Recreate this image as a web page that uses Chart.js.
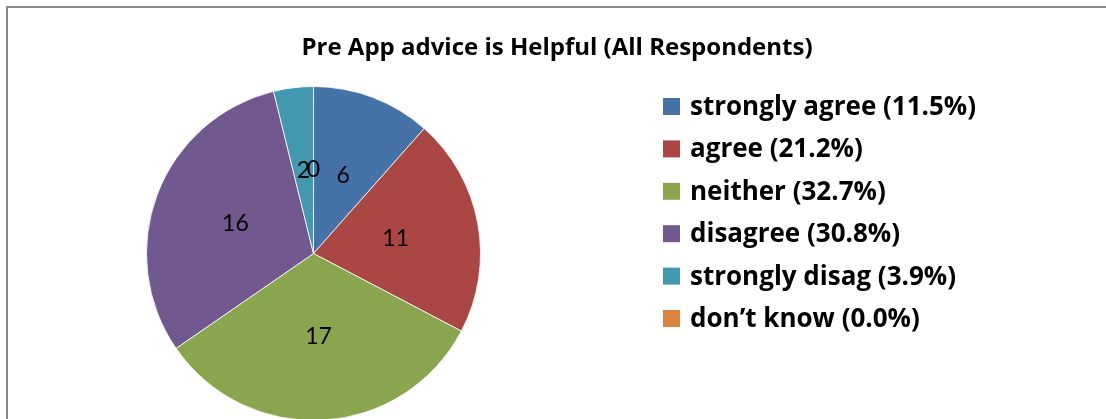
<!DOCTYPE html>
<html>
<head>
<meta charset="utf-8">
<script src="https://cdn.jsdelivr.net/npm/chart.js@4/dist/chart.umd.min.js"></script>
<style>
  html, body { margin: 0; padding: 0; background: #fff; overflow: hidden; }
  #wrap { position: relative; width: 1106px; height: 419px; overflow: hidden; background: #fff; }
  #wrap canvas { position: absolute; left: 0; top: 0; }
</style>
</head>
<body>
<div id="wrap"><canvas id="c" width="1106" height="430" style="width:1106px;height:430px"></canvas></div>
<script>
// Survey answers: "Pre App advice is Helpful"
const chartTitle = 'Pre App advice is Helpful (All Respondents)';
const categories = ['strongly agree', 'agree', 'neither', 'disagree', 'strongly disag', 'don\u2019t know'];
const counts = [6, 11, 17, 16, 2, 0];
const legendLabels = [
  'strongly agree (11.5%)',
  'agree (21.2%)',
  'neither (32.7%)',
  'disagree (30.8%)',
  'strongly disag (3.9%)',
  'don\u2019t know (0.0%)'
];
const sliceColors = ['#4572A7', '#AA4643', '#89A54E', '#71588F', '#4198AF', '#DB843D'];

const LABEL_FONT = 'Lato, "Open Sans", "DejaVu Sans", sans-serif';
const BOLD_FONT = '"Open Sans", "Noto Sans", "DejaVu Sans", sans-serif';

// Chart frame, title, value labels and legend
const decorations = {
  id: 'decorations',
  beforeDraw(chart) {
    const ctx = chart.ctx;
    ctx.save();
    ctx.fillStyle = '#ffffff';
    ctx.fillRect(0, 0, chart.width, chart.height);
    ctx.strokeStyle = '#8a8a8a';
    ctx.lineWidth = 2;
    ctx.beginPath();
    ctx.moveTo(7, chart.height + 5);
    ctx.lineTo(7, 7);
    ctx.lineTo(chart.width + 5, 7);
    ctx.stroke();
    ctx.restore();
  },
  afterDatasetsDraw(chart) {
    const ctx = chart.ctx;
    const meta = chart.getDatasetMeta(0);
    ctx.save();
    ctx.font = '23px ' + LABEL_FONT;
    ctx.fillStyle = '#000';
    ctx.textAlign = 'center';
    ctx.textBaseline = 'middle';
    meta.data.forEach((arc, i) => {
      const p = arc.tooltipPosition();
      ctx.fillText(String(counts[i]), p.x, p.y);
    });
    ctx.restore();
  },
  afterDraw(chart) {
    const ctx = chart.ctx;
    ctx.save();
    // title
    ctx.font = 'bold 24px ' + BOLD_FONT;
    ctx.fillStyle = '#000';
    ctx.textAlign = 'center';
    ctx.textBaseline = 'alphabetic';
    ctx.fillText(chartTitle, 557, 55);
    // legend
    ctx.font = 'bold 26px ' + BOLD_FONT;
    ctx.textAlign = 'left';
    ctx.textBaseline = 'middle';
    legendLabels.forEach((txt, i) => {
      const cy = 106.5 + i * 42.4;
      ctx.fillStyle = sliceColors[i];
      ctx.fillRect(663, cy - 8.5, 17, 17);
      ctx.fillStyle = '#000';
      ctx.fillText(txt, 690, cy + 1);
    });
    ctx.restore();
  }
};

new Chart(document.getElementById('c'), {
  type: 'pie',
  data: {
    labels: categories,
    datasets: [{
      data: counts,
      backgroundColor: sliceColors,
      borderColor: 'rgba(255,255,255,0.8)',
      borderWidth: 1
    }]
  },
  options: {
    responsive: false,
    animation: false,
    layout: { padding: { left: 146, right: 625, top: 86, bottom: 9 } },
    plugins: {
      legend: { display: false },
      tooltip: { enabled: false },
      title: { display: false }
    }
  },
  plugins: [decorations]
});
</script>
</body>
</html>
